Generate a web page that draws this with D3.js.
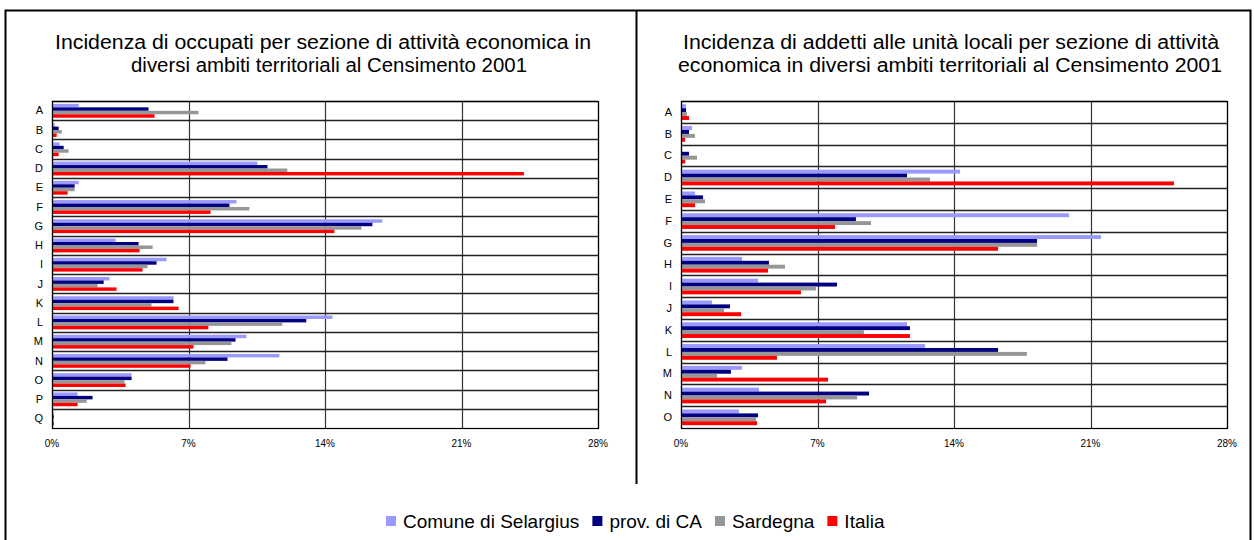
<!DOCTYPE html>
<html>
<head>
<meta charset="utf-8">
<script src="https://cdn.jsdelivr.net/npm/d3@7"></script>
<style>
body{margin:0;background:#fff;}
text{font-family:"Liberation Sans",Arial,sans-serif;}
</style>
</head>
<body>
<div id="canvas"></div>
<script>
var width = 1254;
var height = 540;

var series = ["Comune di Selargius", "prov. di CA", "Sardegna", "Italia"];
var colors = ["#9999ff", "#000080", "#969696", "#ff0000"];

// occupati per sezione
var catsLeft = ["A","B","C","D","E","F","G","H","I","J","K","L","M","N","O","P","Q"];
var selargiusLeft = [1.37,0.14,0.39,10.53,1.37,9.46,16.94,3.26,5.87,2.95,6.23,14.38,9.97,11.66,4.08,1.31,0.06];
var provLeft      = [4.95,0.34,0.60,11.05,1.16,9.10,16.43,4.44,5.36,2.65,6.23,13.04,9.41,9.00,4.08,2.08,0.06];
var sardegnaLeft  = [7.51,0.50,0.85,12.07,1.16,10.12,15.87,5.16,4.90,2.34,5.10,11.81,9.20,7.87,3.72,1.78,0.06];
var italiaLeft    = [5.26,0.24,0.34,24.20,0.80,8.13,14.48,4.49,4.64,3.31,6.49,8.02,7.26,7.10,3.77,1.31,0.06];

// addetti alle unita locali
var catsRight = ["A","B","C","D","E","F","G","H","I","J","K","L","M","N","O"];
var selargiusRight = [0.26,0.56,0,14.31,0.72,19.90,21.54,3.13,3.95,1.59,11.59,12.51,3.13,4.00,2.97];
var provRight      = [0.26,0.41,0.41,11.59,1.13,8.97,18.26,4.51,8.00,2.51,11.74,16.26,2.56,9.64,3.95];
var sardegnaRight  = [0.31,0.72,0.82,12.77,1.23,9.74,18.26,5.33,6.92,2.21,9.38,17.74,1.85,9.03,3.85];
var italiaRight    = [0.41,0.21,0.21,25.28,0.72,7.90,16.26,4.46,6.15,3.08,11.74,4.92,7.54,7.44,3.90];

var ticks = [0,7,14,21,28];

var titleLeft = ["Incidenza di occupati per sezione di attività economica in",
                 "diversi ambiti territoriali al Censimento 2001"];
var titleRight = ["Incidenza di addetti alle unità locali per sezione di attività",
                  "economica in diversi ambiti territoriali al Censimento 2001"];

var svg = d3.select("#canvas").append("svg")
	.attr("width",width)
	.attr("height",height);

// outer frame
svg.append("rect")
	.attr("x",5.5).attr("y",10.5)
	.attr("width",1245).attr("height",560)
	.attr("fill","none").attr("stroke","#000").attr("stroke-width",2);
svg.append("line")
	.attr("x1",636.5).attr("x2",636.5)
	.attr("y1",10).attr("y2",484)
	.attr("stroke","#000").attr("stroke-width",2);

function drawChart(opt){
	var g = svg.append("g");
	var x = d3.scaleLinear().domain([0,28]).range([opt.x0,opt.x1]);
	var y = d3.scaleBand().domain(opt.cats).range([opt.y0,opt.y1]).padding(0);
	var inner = d3.scaleBand().domain(d3.range(4))
		.range([y.bandwidth()*0.15, y.bandwidth()*0.87]).padding(0);

	// title (text in the reference is a bit wider than Liberation Sans)
	g.selectAll("text.title").data(opt.title).enter().append("text")
		.attr("class","title")
		.attr("x",function(d,i){return opt.tx[i];})
		.attr("y",function(d,i){return 49+i*23;})
		.attr("text-anchor","middle")
		.attr("textLength",function(d,i){return opt.tw[i];})
		.attr("lengthAdjust","spacingAndGlyphs")
		.style("font-size","19.5px")
		.text(function(d){return d;});

	// vertical grid
	g.selectAll("line.vg").data(ticks).enter().append("line")
		.attr("x1",function(d){return Math.round(x(d))+0.5;})
		.attr("x2",function(d){return Math.round(x(d))+0.5;})
		.attr("y1",opt.y0).attr("y2",opt.y1)
		.attr("stroke","#333").attr("stroke-width",1.2);

	// horizontal separators between categories
	g.selectAll("line.hg").data(opt.cats).enter().append("line")
		.attr("x1",opt.x0).attr("x2",opt.x1)
		.attr("y1",function(d){return Math.round(y(d))+0.5;})
		.attr("y2",function(d){return Math.round(y(d))+0.5;})
		.attr("stroke","#222").attr("stroke-width",1.4);

	// bars
	var rows = g.selectAll("g.row").data(opt.cats).enter().append("g")
		.attr("class","row")
		.attr("transform",function(d){return "translate(0,"+y(d)+")";});
	rows.each(function(c,ci){
		var r = d3.select(this);
		opt.values.forEach(function(vals,si){
			if(vals[ci] <= 0) return;
			r.append("rect")
				.attr("x",x(0)+1)
				.attr("y",inner(si))
				.attr("width",Math.max(0.8,x(vals[ci])-x(0)-1))
				.attr("height",inner.bandwidth())
				.attr("fill",colors[si]);
		});
	});

	// plot border
	g.append("rect")
		.attr("x",opt.x0+0.5).attr("y",opt.y0+0.5)
		.attr("width",opt.x1-opt.x0).attr("height",opt.y1-opt.y0)
		.attr("fill","none").attr("stroke","#000").attr("stroke-width",1.2);

	// category labels
	g.selectAll("text.cat").data(opt.cats).enter().append("text")
		.attr("class","cat")
		.attr("x",opt.x0-9)
		.attr("y",function(d){return y(d)+y.bandwidth()/2;})
		.attr("dy","0.35em")
		.attr("text-anchor","end")
		.style("font-size","11px")
		.text(function(d){return d;});

	// tick labels
	g.selectAll("text.tick").data(ticks).enter().append("text")
		.attr("class","tick")
		.attr("x",function(d){return x(d);})
		.attr("y",opt.y1+19)
		.attr("text-anchor","middle")
		.style("font-size","10px")
		.text(function(d){return d+"%";});
}

drawChart({
	cats: catsLeft,
	values: [selargiusLeft, provLeft, sardegnaLeft, italiaLeft],
	x0: 52, x1: 598, y0: 101, y1: 428,
	tx: [323, 329], tw: [536, 396], title: titleLeft
});
drawChart({
	cats: catsRight,
	values: [selargiusRight, provRight, sardegnaRight, italiaRight],
	x0: 681, x1: 1227, y0: 101, y1: 428,
	tx: [951, 950], tw: [536, 544], title: titleRight
});

// legend
var legend = svg.append("g").attr("transform","translate(386,521)");
var lx = 0;
series.forEach(function(s,i){
	legend.append("rect")
		.attr("x",lx).attr("y",-5)
		.attr("width",10).attr("height",10)
		.attr("fill",colors[i]);
	var t = legend.append("text")
		.attr("x",lx+17).attr("y",0)
		.attr("dy","0.35em")
		.style("font-size","19px")
		.text(s);
	lx += 17 + t.node().getComputedTextLength() + 13;
});
</script>
</body>
</html>
